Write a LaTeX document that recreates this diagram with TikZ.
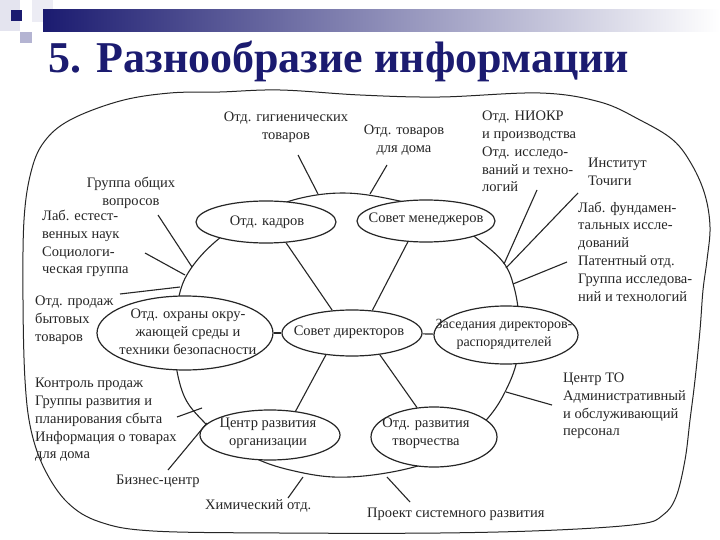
\documentclass[tikz,border=0pt]{standalone}
\usepackage{fontspec}
\setmainfont{Liberation Serif}
\usetikzlibrary{shapes.geometric}
\definecolor{navy}{HTML}{1B1B70}
\definecolor{ink}{HTML}{262626}
\definecolor{pale}{HTML}{E4E4EF}
\definecolor{lav}{HTML}{B4B4D2}
\begin{document}
\begin{tikzpicture}[x=1pt,y=-1pt,
  lbl/.style={font=\fontsize{14.5}{17.8}\selectfont, text=ink, inner sep=0pt, align=left, anchor=west},
  lblc/.style={font=\fontsize{14.5}{17.8}\selectfont, text=ink, inner sep=0pt, align=center},
  oval/.style={ellipse, draw=ink, line width=1.2pt, fill=white, inner sep=0pt},
  ln/.style={draw=ink, line width=1.1pt},
  pt/.style={inner sep=0pt}]
\useasboundingbox (0,0) rectangle (720,540);
\fill[white] (0,0) rectangle (720,540);
% header decoration
\fill[pale] (0,0) rectangle (20,31);
\fill[pale!70] (32,0) rectangle (53,22);
\shade[left color=navy, right color=white] (43,10) rectangle (720,32);
\fill[navy] (11,10) rectangle (22,21);
\fill[lav] (20,32) rectangle (32,43);
\node[font=\fontsize{44}{44}\selectfont\bfseries, text=navy, inner sep=0pt] (title) at (339,61) {5. Разнообразие информации};
% outer blob
\draw[ln, line width=1pt] plot[smooth cycle, tension=0.6] coordinates {
 (24,220) (31,172) (44,142) (70,120) (120,101) (170,93) (220,92) (280,90) (360,95) (440,97) (540,93) (600,102) (640,120) (673,140) (692,165) (705,195) (710,227) (707,260) (703,290) (700,330) (695,380) (690,420) (685,460) (676,497) (663,515) (640,524) (557,530) (440,533) (280,533) (153,531) (100,522) (68,503) (45,470) (31,430) (25,380) (23,300)};
% big ring
\draw[ln] plot[smooth cycle, tension=0.6] coordinates {
 (343,193) (390,199) (440,213) (475,237) (503,262) (514,287) (519,320) (517,360) (505,392) (488,418) (460,445) (427,463) (380,474) (333,477) (290,470) (257,459) (225,440) (203,421) (185,398) (176,365) (175,330) (180,292) (192,267) (215,242) (250,217) (297,199)};
% ovals
\node[oval, minimum width=140pt, minimum height=42pt] (kadr) at (266,222) {};
\node[oval, minimum width=138pt, minimum height=42pt] (men) at (426,221) {};
\node[oval, minimum width=176pt, minimum height=74pt] (ohr) at (185,333) {};
\node[oval, minimum width=140pt, minimum height=46pt] (sd) at (352,333) {};
\node[oval, minimum width=144pt, minimum height=58pt] (zas) at (506,335) {};
\node[oval, minimum width=140pt, minimum height=50pt] (cro) at (270,435) {};
\node[oval, minimum width=126pt, minimum height=60pt] (ort) at (434,437) {};
\node[lblc] (tkadr) at (267,222) {Отд. кадров};
\node[lblc] (tmen) at (426,219) {Совет менеджеров};
\node[lblc] (tohr) at (188,332) {Отд. охраны окру-\\жающей среды и\\техники безопасности};
\node[lblc] (tsd) at (349,332) {Совет директоров};
\node[lblc, font=\fontsize{14}{17.8}\selectfont] (tzas) at (504,334) {Заседания директоров-\\распорядителей};
\node[lblc] (tcro) at (268,433) {Центр развития\\организации};
\node[lblc] (tort) at (426,433) {Отд. развития\\творчества};
% inner spokes
\draw[ln] (kadr.-46) -- (sd.131);
\draw[ln] (men.-131) -- (sd.48);
\draw[ln] (sd.220) -- (cro.43);
\draw[ln] (sd.-38) -- (ort.120);
\draw[ln] (ohr) -- (sd);
\draw[ln] (sd) -- (zas);
% outer labels
\node[lblc] (gig) at (286,127) {Отд. гигиенических\\товаров};
\node[lblc] (tov) at (404,140) {Отд. товаров\\для дома};
\node[lbl] (niokr) at (482,151.5) {Отд. НИОКР\\и производства\\Отд. исследо-\\ваний и техно-\\логий};
\node[lbl] (inst) at (588,171.5) {Институт\\Точиги};
\node[lbl] (labf) at (578,251.5) {Лаб. фундамен-\\тальных иссле-\\дований\\Патентный отд.\\Группа исследова-\\ний и технологий};
\node[lblc] (gen) at (131,192.5) {Группа общих\\вопросов};
\node[lbl] (labe) at (42,243.5) {Лаб. естест-\\венных наук\\Социологи-\\ческая группа};
\node[lbl] (prod) at (35,320) {Отд. продаж\\бытовых\\товаров};
\node[lbl] (kontr) at (35,420) {Контроль продаж\\Группы развития и\\планирования сбыта\\Информация о товарах\\для дома};
\node[lbl] (biz) at (116,481) {Бизнес-центр};
\node[lbl] (him) at (205,506) {Химический отд.};
\node[lbl] (proj) at (367,514) {Проект системного развития};
\node[lbl] (cto) at (563,406) {Центр ТО\\Административный\\и обслуживающий\\персонал};
% spoke ends
\coordinate (a1) at (298,155); \coordinate (b1) at (318,194);
\coordinate (a2) at (387,165); \coordinate (b2) at (370,194);
\coordinate (a3) at (158,215); \coordinate (b3) at (192,267);
\coordinate (a4) at (145,253); \coordinate (b4) at (185,275);
\coordinate (a5) at (120,294); \coordinate (b5) at (180,287);
\coordinate (a6) at (177,417); \coordinate (b6) at (202,408);
\coordinate (a7) at (168,470); \coordinate (b7) at (207,423);
\coordinate (a8) at (288,498); \coordinate (b8) at (303,477);
\coordinate (a9) at (410,502); \coordinate (b9) at (387,477);
\coordinate (a10) at (552,405); \coordinate (b10) at (506,392);
\coordinate (a11) at (537,190); \coordinate (b11) at (504,264);
\coordinate (a12) at (578,193); \coordinate (b12) at (506,268);
\coordinate (a13) at (567,262); \coordinate (b13) at (513,284);
\foreach \i in {1,...,13} {\draw[ln] (a\i) -- (b\i);}
\end{tikzpicture}
\end{document}
